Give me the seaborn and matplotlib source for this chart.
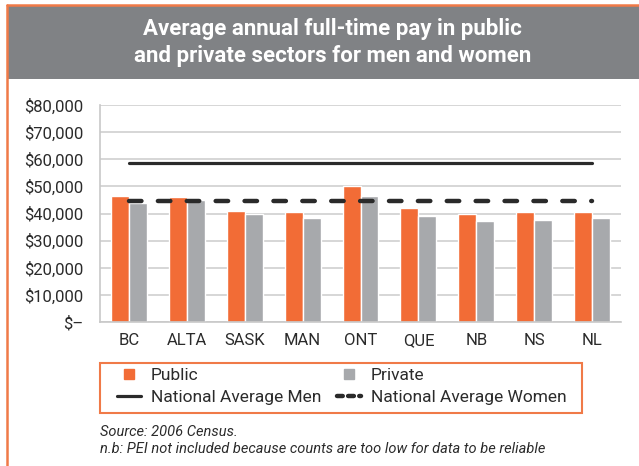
import matplotlib
matplotlib.use("Agg")
import matplotlib.pyplot as plt
import seaborn as sns
import pandas as pd
import numpy as np
from matplotlib.lines import Line2D
from matplotlib.patches import Rectangle
from matplotlib.ticker import FuncFormatter

provinces = ["BC", "ALTA", "SASK", "MAN", "ONT", "QUE", "NB", "NS", "NL"]
public = [46500, 46100, 41000, 40600, 50300, 42100, 39900, 40700, 40700]
private = [44000, 45000, 39700, 38300, 46500, 39100, 37200, 37600, 38300]
national_avg_men = 58700
national_avg_women = 44600
yticks = [0, 10000, 20000, 30000, 40000, 50000, 60000, 70000, 80000]

ORANGE = "#F26C36"
GREY = "#A7A9AC"
BANNER = "#808285"
BORDER = "#F07A48"
TEXT = "#2b2b2b"

sns.set_theme(style="white")
plt.rcParams["font.family"] = ["Roboto", "DejaVu Sans"]

df = pd.DataFrame({
    "Province": provinces * 2,
    "Pay": public + private,
    "Sector": ["Public"] * len(provinces) + ["Private"] * len(provinces),
})

W, H = 639, 466
fig = plt.figure(figsize=(W / 100, H / 100), dpi=100)
fig.patch.set_facecolor("white")

# banner and frame
fig.patches.append(Rectangle((7 / W, 1 - 79 / H), 1 - 7 / W, 74 / H,
                             transform=fig.transFigure, facecolor=BANNER,
                             edgecolor="none", zorder=0))
fig.lines.append(Line2D([7 / W, 7 / W], [0, 1 - 5 / H], transform=fig.transFigure,
                        color=BORDER, lw=1.8))
fig.lines.append(Line2D([7 / W, 1], [1 - 5 / H, 1 - 5 / H], transform=fig.transFigure,
                        color=BORDER, lw=1.8))
fig.text(0.52, 1 - 29 / H, "Average annual full-time pay in public",
         ha="center", va="center", color="white", fontsize=16, fontweight="bold")
fig.text(0.52, 1 - 56 / H, "and private sectors for men and women",
         ha="center", va="center", color="white", fontsize=16, fontweight="bold")

ax = fig.add_axes([100 / W, 1 - 322 / H, 521 / W, 217 / H])
sns.barplot(data=df, x="Province", y="Pay", hue="Sector",
            palette={"Public": ORANGE, "Private": GREY}, width=0.62,
            saturation=1, ax=ax, legend=False, zorder=2)
xs = np.arange(len(provinces))
sns.lineplot(x=xs, y=[national_avg_men] * len(provinces), color="#2a2a2a",
             lw=2.3, ax=ax, zorder=4)
sns.lineplot(x=xs, y=[national_avg_women] * len(provinces), color="#2a2a2a",
             lw=3.2, ax=ax, zorder=4)
ax.lines[-1].set_dashes([2.8, 3.7])
ax.lines[-1].set_dash_capstyle("round")

ax.set_xlim(-0.5, len(provinces) - 0.5)
ax.set_ylim(0, 80000)
ax.set_yticks(yticks)
ax.yaxis.set_major_formatter(FuncFormatter(lambda v, p: "$–" if v == 0 else f"${v:,.0f}"))
ax.grid(axis="y", color="#cfcfcf", lw=1.2, zorder=0)
ax.set_axisbelow(True)
for s in ["top", "right"]:
    ax.spines[s].set_visible(False)
ax.spines["left"].set_color("#c8c8c8")
ax.spines["bottom"].set_color("#c8c8c8")
ax.spines["left"].set_linewidth(1.2)
ax.spines["bottom"].set_linewidth(1.2)
ax.set_xlabel("")
ax.set_ylabel("")
ax.tick_params(axis="y", labelsize=12, colors=TEXT, length=0, pad=12)
ax.tick_params(axis="x", labelsize=12, colors=TEXT, length=0, pad=8)
ax.set_xticks(np.arange(-0.5, len(provinces), 1.0), minor=True)
ax.tick_params(axis="x", which="minor", length=5, color="#c8c8c8", width=1.2, direction="out")

# legend frame drawn separately
fig.patches.append(Rectangle((100 / W, 1 - 413 / H), 482 / W, 50 / H,
                             transform=fig.transFigure, facecolor="none",
                             edgecolor=BORDER, lw=1.5, zorder=5))
handles = [
    Line2D([], [], marker="s", color=ORANGE, linestyle="none", markersize=7),
    Line2D([], [], color="#2a2a2a", lw=2.3),
    Line2D([], [], marker="s", color=GREY, linestyle="none", markersize=7),
    Line2D([], [], color="#2a2a2a", lw=3.2, dashes=[1.3, 1.2], dash_capstyle="round"),
]
labels = ["Public", "National Average Men", "Private", "National Average Women"]
leg = fig.legend(handles, labels, ncol=2, loc="upper left",
                 bbox_to_anchor=(117 / W, 1 - 368 / H), fontsize=12.5,
                 frameon=False, handlelength=1.4, handletextpad=0.55,
                 columnspacing=0.9, labelspacing=0.38, borderpad=0,
                 borderaxespad=0)
for t in leg.get_texts():
    t.set_color(TEXT)

fig.text(100 / W, 1 - 432 / H, "Source: 2006 Census.", fontsize=10.5,
         style="italic", color=TEXT, va="center")
fig.text(100 / W, 1 - 449 / H,
         "n.b: PEI not included because counts are too low for data to be reliable",
         fontsize=10.5, style="italic", color=TEXT, va="center")

fig.savefig("out.png", dpi=100, facecolor="white")
